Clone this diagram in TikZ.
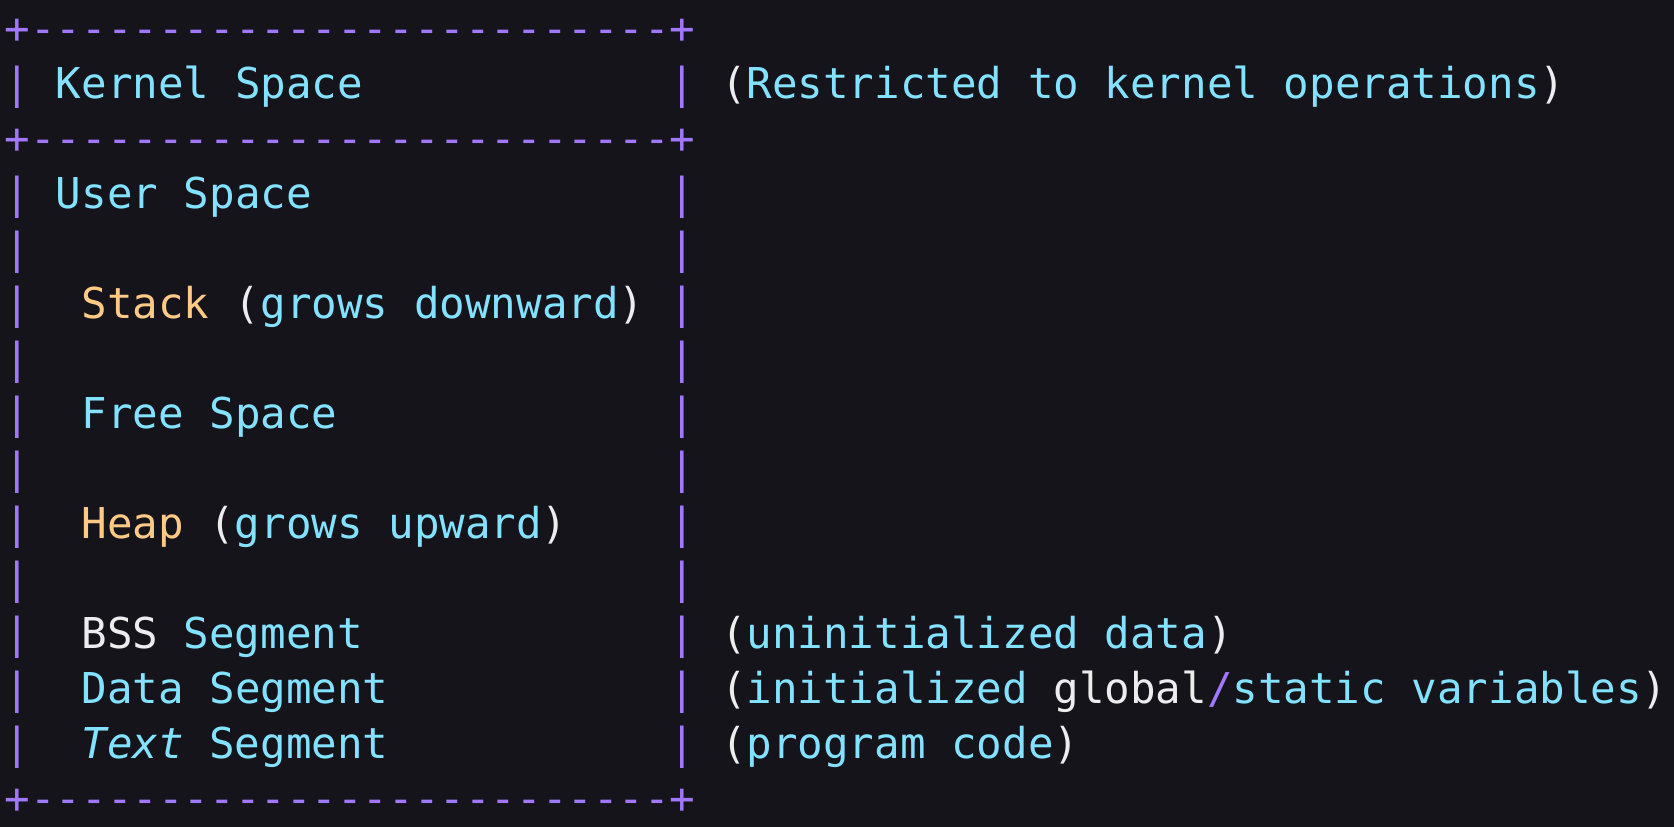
\documentclass[tikz,border=0pt]{standalone}
\usepackage{fontspec}
\setmonofont{DejaVu Sans Mono}
\definecolor{bgC}{HTML}{15141B}
\definecolor{frameC}{HTML}{A277FF}
\definecolor{identC}{HTML}{82E2FF}
\definecolor{kwC}{HTML}{FFCA85}
\definecolor{plainC}{HTML}{EDECEE}

\begin{document}
\begin{tikzpicture}[x=12.79pt, y=-27.49pt]
    \def\ox{0.17}
    \def\oy{0.8}
    \tikzset{
        tok/.style={anchor=base west, inner sep=0pt, font=\ttfamily\fontsize{21.25pt}{27pt}\selectfont},
        framech/.style={tok, text=frameC},
        ident/.style={tok, text=identC},
        kw/.style={tok, text=kwC},
        punct/.style={tok, text=plainC},
    }
    \useasboundingbox (0,0) rectangle (65.44,15.04);
    \fill[bgC] (0,0) rectangle (65.44,15.04);
    % box outline
    \foreach \r in {0,2,14}
        \node[framech] (border\r) at (\ox, \r+\oy) {+-------------------------+};
    \foreach \r in {1,3,4,...,13} {
        \node[framech] (left\r) at (\ox, \r+\oy) {|};
        \node[framech] (right\r) at (26+\ox, \r+\oy) {|};
    }
    % kernel row
    \node[ident] (kernel) at (2+\ox, 1+\oy) {Kernel Space};
    \node[punct] (kopen) at (28+\ox, 1+\oy) {(};
    \node[ident] (knote) at (29+\ox, 1+\oy) {Restricted to kernel operations};
    \node[punct] (kclose) at (60+\ox, 1+\oy) {)};
    % user space
    \node[ident] (user) at (2+\ox, 3+\oy) {User Space};
    \node[kw] (stack) at (3+\ox, 5+\oy) {Stack};
    \node[punct] (sopen) at (9+\ox, 5+\oy) {(};
    \node[ident] (snote) at (10+\ox, 5+\oy) {grows downward};
    \node[punct] (sclose) at (24+\ox, 5+\oy) {)};
    \node[ident] (free) at (3+\ox, 7+\oy) {Free Space};
    \node[kw] (heap) at (3+\ox, 9+\oy) {Heap};
    \node[punct] (hopen) at (8+\ox, 9+\oy) {(};
    \node[ident] (hnote) at (9+\ox, 9+\oy) {grows upward};
    \node[punct] (hclose) at (21+\ox, 9+\oy) {)};
    % segments
    \node[punct] (bss) at (3+\ox, 11+\oy) {BSS};
    \node[ident] (bssseg) at (7+\ox, 11+\oy) {Segment};
    \node[punct] (bopen) at (28+\ox, 11+\oy) {(};
    \node[ident] (bnote) at (29+\ox, 11+\oy) {uninitialized data};
    \node[punct] (bclose) at (47+\ox, 11+\oy) {)};
    \node[ident] (data) at (3+\ox, 12+\oy) {Data Segment};
    \node[punct] (dopen) at (28+\ox, 12+\oy) {(};
    \node[ident] (dnote) at (29+\ox, 12+\oy) {initialized};
    \node[punct] (dglobal) at (41+\ox, 12+\oy) {global};
    \node[framech] (dslash) at (47+\ox, 12+\oy) {/};
    \node[ident] (dstatic) at (48+\ox, 12+\oy) {static variables};
    \node[punct] (dclose) at (64+\ox, 12+\oy) {)};
    \node[ident] (text) at (3+\ox, 13+\oy) {\itshape Text};
    \node[ident] (textseg) at (8+\ox, 13+\oy) {Segment};
    \node[punct] (topen) at (28+\ox, 13+\oy) {(};
    \node[ident] (tnote) at (29+\ox, 13+\oy) {program code};
    \node[punct] (tclose) at (41+\ox, 13+\oy) {)};
\end{tikzpicture}
\end{document}
